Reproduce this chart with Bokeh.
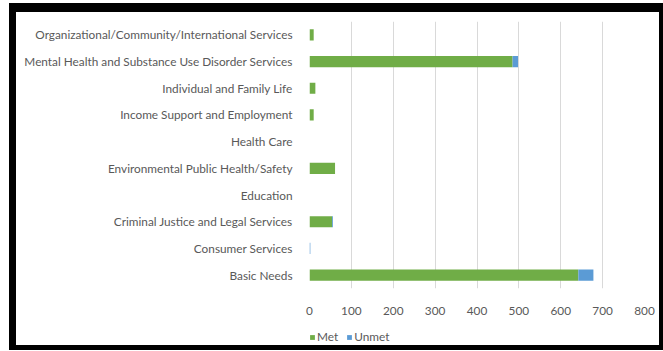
from bokeh.plotting import figure
from bokeh.layouts import column
from bokeh.models import ColumnDataSource, FixedTicker, Legend, LegendItem
from bokeh.embed import file_html
from bokeh.resources import INLINE

categories = [
    "Basic Needs",
    "Consumer Services",
    "Criminal Justice and Legal Services",
    "Education",
    "Environmental Public Health/Safety",
    "Health Care",
    "Income Support and Employment",
    "Individual and Family Life",
    "Mental Health and Substance Use Disorder Services",
    "Organizational/Community/International Services",
]
met = [642, 0, 54, 0, 61, 0, 10, 14, 485, 10]
unmet = [36, 2, 2, 0, 0, 0, 0, 0, 13, 0]
x_ticks = [0, 100, 200, 300, 400, 500, 600, 700, 800]
series = ["Met", "Unmet"]
colors = ["#70AD47", "#5B9BD5"]

source = ColumnDataSource(dict(cat=categories, Met=met, Unmet=unmet))

FONT = "Lato"
GRAY = "#595959"

p = figure(
    width=643, height=307,
    y_range=categories, x_range=(0, 800),
    output_backend="svg", toolbar_location=None,
    min_border_left=293, min_border_right=15,
    min_border_top=9, min_border_bottom=31,
)
p.outline_line_color = None
p.background_fill_color = "white"
p.border_fill_color = "white"

renderers = p.hbar_stack(series, y="cat", height=0.42, color=colors,
                         line_color=None, source=source)

p.ygrid.grid_line_color = None
p.xgrid.grid_line_color = "#D9D9D9"
p.xgrid.grid_line_width = 1

p.xaxis.ticker = FixedTicker(ticks=x_ticks)
for ax in (p.xaxis[0], p.yaxis[0]):
    ax.axis_line_color = None
    ax.major_tick_line_color = None
    ax.minor_tick_line_color = None
    ax.major_label_text_color = GRAY
    ax.major_label_text_font = FONT
    ax.major_label_text_font_size = "11.8px"
p.yaxis.major_label_standoff = 11
p.xaxis.major_label_standoff = 12

# legend strip below the chart
lf = figure(
    width=643, height=26,
    y_range=categories, x_range=(0, 800),
    x_axis_type=None, y_axis_type=None,
    output_backend="svg", toolbar_location=None,
    min_border=0,
)
lf.outline_line_color = None
lf.grid.grid_line_color = None
lrend = lf.hbar_stack(series, y="cat", height=0.42, color=colors,
                      line_color=None, source=source)
for r in lrend:
    r.visible = False

legend = Legend(
    items=[LegendItem(label=s, renderers=[r]) for s, r in zip(series, lrend)],
    orientation="horizontal",
    location=(0, 1),
    glyph_width=6, glyph_height=6,
    label_text_font=FONT, label_text_font_size="11.8px",
    label_text_color=GRAY,
    label_standoff=2, spacing=8,
    padding=0, margin=0,
    border_line_color=None, background_fill_alpha=0,
    inactive_fill_alpha=0,
)
lf.add_layout(legend, "center")

layout = column(p, lf, spacing=0)
layout.margin = (12, 0, 0, 16)
layout.styles = {
    "box-shadow": "-7px -9px 0 0 black, 4px -9px 0 0 black, "
                  "-7px 5px 0 0 black, 4px 5px 0 0 black",
    "background": "white",
}

open("out.html", "w").write(file_html(layout, INLINE))
